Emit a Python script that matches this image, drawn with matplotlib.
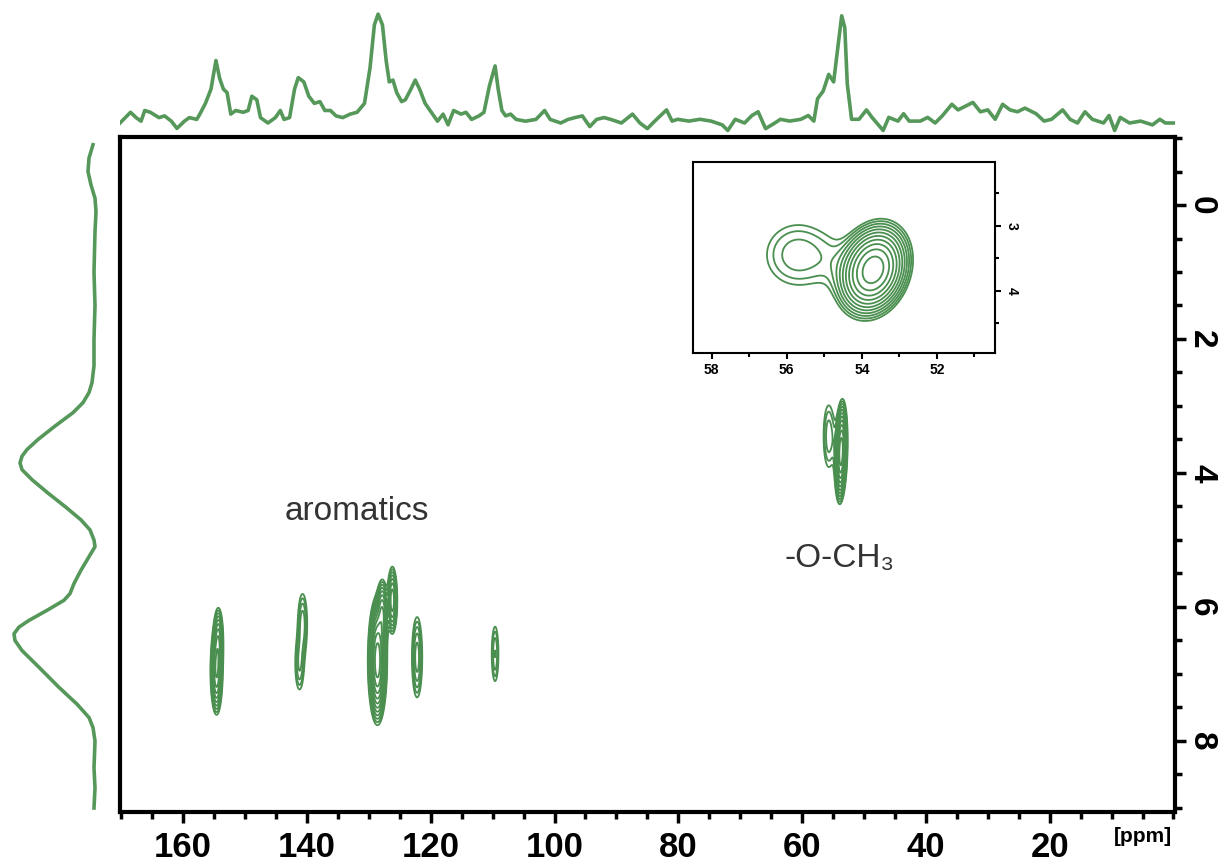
import numpy as np
import matplotlib
matplotlib.use("Agg")
import matplotlib.pyplot as plt
from matplotlib.ticker import MultipleLocator

plt.rcParams['font.family'] = ['Liberation Sans', 'DejaVu Sans']

# ---------------- data ----------------
# 13C projection (top): chemical shift (ppm) and intensity (a.u.)
top_ppm = [170.2, 168.5, 167.6, 166.8, 166.2, 165.3, 163.9, 163.0, 161.9, 161.0,
           159.8, 159.0, 157.8, 157.3, 156.4, 155.5, 154.7, 154.1, 153.5, 152.9,
           152.3, 151.5, 150.3, 149.5, 148.9, 148.1, 147.5, 146.3, 145.1, 144.3,
           143.7, 142.8, 142.0, 141.4, 140.5, 139.7, 138.8, 137.9, 137.1, 136.2,
           135.3, 134.2, 133.0, 131.9, 130.7, 129.8, 129.1, 128.5, 127.8, 127.2,
           126.7, 126.1, 125.5, 124.7, 124.1, 123.2, 122.5, 121.8, 120.9, 119.7,
           118.9, 118.0, 117.2, 116.3, 115.1, 114.3, 113.4, 112.2, 111.4, 110.5,
           109.6, 109.1, 108.5, 107.9, 107.1, 106.2, 104.7, 103.0, 101.6, 100.7,
           99.0, 97.8, 96.7, 95.5, 94.3, 93.2, 92.0, 90.9, 89.2, 87.4,
           86.2, 85.0, 83.8, 81.9, 81.0, 80.1, 78.3, 76.5, 74.7, 72.9,
           72.0, 70.8, 69.3, 68.1, 67.1, 65.9, 64.4, 63.5, 62.0, 60.2,
           59.0, 58.1, 57.5, 56.6, 55.7, 54.9, 54.2, 53.6, 53.1, 52.7,
           52.0, 50.8, 49.6, 48.7, 46.9, 46.0, 44.5, 43.6, 42.7, 40.9,
           39.7, 38.5, 37.3, 35.8, 34.8, 33.6, 32.4, 31.2, 30.0, 28.8,
           27.6, 26.4, 25.2, 24.0, 22.2, 20.9, 19.7, 17.9, 16.7, 15.5,
           14.3, 13.1, 11.3, 10.4, 9.5, 8.6, 7.1, 5.3, 3.4, 2.2,
           1.3, -0.2]
top_int = [0.0, 10.7, 5.4, 1.8, 12.5, 10.7, 5.4, 7.1, 1.8, -5.4,
           1.8, 5.4, 3.6, 8.9, 19.6, 33.9, 62.5, 44.6, 33.9, 30.4,
           8.9, 12.5, 10.7, 12.5, 26.8, 23.2, 5.4, 0.0, 5.4, 12.5,
           3.6, 5.4, 33.9, 45.4, 41.1, 26.8, 19.6, 21.4, 12.5, 12.5,
           7.1, 5.4, 8.9, 10.7, 19.6, 55.4, 98.2, 108.9, 98.2, 62.5,
           41.1, 42.9, 30.4, 21.4, 23.2, 33.9, 42.9, 33.9, 19.6, 8.9,
           1.8, 8.9, -1.8, 12.5, 8.9, 10.7, 3.6, 7.1, 10.7, 37.5,
           57.1, 33.9, 12.5, 7.1, 8.9, 3.6, 1.8, 3.6, 12.5, 3.6,
           0.0, 3.6, 5.4, 7.1, -3.6, 3.6, 5.4, 3.6, 0.0, 8.9,
           0.0, -5.6, 1.9, 13.1, 1.9, 3.7, 1.9, 3.7, 1.9, -1.9,
           -7.5, 3.7, 0.0, 7.5, 11.2, -5.6, 0.0, 3.7, 1.9, 3.7,
           7.5, 1.9, 24.3, 31.8, 48.6, 41.1, 76.5, 107.2, 95.3, 39.2,
           3.7, 3.7, 13.1, 5.6, -7.5, 5.6, 1.9, 9.3, 1.9, 1.9,
           5.6, 0.0, 7.5, 18.7, 13.1, 16.8, 20.6, 11.2, 13.1, 3.7,
           18.7, 13.1, 11.2, 14.9, 9.3, 1.9, 3.7, 13.1, 3.7, 0.0,
           11.2, 3.7, 0.0, 7.5, -7.5, 5.6, 0.0, 1.9, -1.9, 3.7,
           0.0, 0.0]

# 1H projection (left): chemical shift (ppm) and intensity (a.u.)
left_ppm = [-0.9, -0.7, -0.5, -0.3, -0.1, 0.1, 0.4, 1.0, 1.5, 2.0,
            2.4, 2.65, 2.8, 2.95, 3.1, 3.3, 3.5, 3.65, 3.75, 3.85,
            3.95, 4.1, 4.3, 4.5, 4.7, 4.85, 5.0, 5.1, 5.25, 5.45,
            5.65, 5.8, 5.9, 6.05, 6.2, 6.3, 6.4, 6.5, 6.65, 6.9,
            7.2, 7.45, 7.65, 7.8, 8.0, 8.4, 8.7, 9.0]
left_int = [2, 6, 7, 4, 0, -1, 0, 1, 0, 1,
            1, 3, 6, 12, 22, 40, 57, 68, 73, 75,
            73, 63, 47, 30, 14, 5, 1, 0, 6, 14,
            21, 25, 31, 48, 66, 76, 81, 80, 73, 56,
            36, 18, 6, 2, 0, 1, 0, 1]

# 2D cross peaks: 13C shift, 1H shift, widths, tilt, amplitude
pk_c13 = [154.6, 154.3, 140.7, 141.2, 128.6, 127.8, 126.2, 122.2, 109.6, 55.7, 54.8, 53.7]
pk_h1 = [6.95, 6.5, 6.25, 6.85, 6.8, 6.1, 5.9, 6.75, 6.7, 3.45, 3.55, 3.68]
pk_wc = [0.45, 0.4, 0.5, 0.5, 0.62, 0.45, 0.4, 0.5, 0.4, 0.65, 0.35, 0.42]
pk_wh = [0.3, 0.25, 0.3, 0.28, 0.38, 0.25, 0.25, 0.36, 0.3, 0.36, 0.3, 0.31]
pk_rho = [0, 0, 0, 0, 0, 0, 0, 0, 0, 0, 0, 0.2]
pk_amp = [0.45, 0.25, 0.12, 0.1, 1.0, 0.3, 0.3, 0.16, 0.1, 0.09, 0.02, 1.0]

xtick_vals = [160, 140, 120, 100, 80, 60, 40, 20]
ytick_vals = [0, 2, 4, 6, 8]
inset_xticks = [58, 56, 54, 52]
inset_yticks = [3, 4]

# ---------------- helpers ----------------
def field(X, Y):
    Z = np.zeros_like(X)
    for cx, cy, sx, sy, rho, a in zip(pk_c13, pk_h1, pk_wc, pk_wh, pk_rho, pk_amp):
        dx = (X - cx) / sx
        dy = (Y - cy) / sy
        q = (dx * dx - 2 * rho * dx * dy + dy * dy) / (1 - rho ** 2)
        Z += a * np.exp(-0.5 * q)
    return Z

GREEN = '#55985a'
CGREEN = '#4a8f4f'
levels = [0.04 * 1.35 ** k for k in range(12)]

W, H = 1226, 866
def rect(l, t, r, b):
    return [l / W, 1 - b / H, (r - l) / W, (b - t) / H]

fig = plt.figure(figsize=(W / 100, H / 100), dpi=100)
ax = fig.add_axes(rect(120, 137, 1175, 812))
axt = fig.add_axes(rect(120, 5, 1175, 135))
axl = fig.add_axes(rect(5, 137, 110, 812))
axi = fig.add_axes(rect(693, 162, 995, 353))

XLIM = (170.2, -0.25)
YLIM = (9.06, -1.015)

# main 2D
xs = np.linspace(170.2, -0.25, 3400)
ys = np.linspace(-1.015, 9.06, 1000)
X, Y = np.meshgrid(xs, ys)
ax.contour(X, Y, field(X, Y), levels=levels, colors=CGREEN, linewidths=1.3)
ax.set_xlim(*XLIM)
ax.set_ylim(*YLIM)
ax.yaxis.tick_right()
ax.set_xticks(xtick_vals)
ax.set_xticklabels([str(v) for v in xtick_vals], fontsize=25, fontweight='bold')
ax.set_yticks(ytick_vals)
ax.set_yticklabels([str(v) for v in ytick_vals], fontsize=24, fontweight='bold',
                   rotation=270, va='center')
ax.xaxis.set_minor_locator(MultipleLocator(5))
ax.yaxis.set_minor_locator(MultipleLocator(0.5))
ax.tick_params(which='major', direction='out', length=8, width=2.5)
ax.tick_params(axis='x', which='major', pad=6)
ax.tick_params(axis='y', which='major', pad=0)
ax.tick_params(which='minor', direction='out', length=5, width=2.5)
for s in ax.spines.values():
    s.set_linewidth(3)
ax.text(132, 4.58, 'aromatics', ha='center', va='center', fontsize=24, color='#333333')
ax.text(53.9, 5.27, '-O-CH₃', ha='center', va='center', fontsize=24, color='#333333')
fig.text(1143 / W, 1 - 837 / H, '[ppm]', fontsize=15, fontweight='bold',
         ha='center', va='center')

# top projection
axt.plot(top_ppm, top_int, color=GREEN, lw=2.6)
axt.set_xlim(*XLIM)
axt.set_ylim(-12, 118)
axt.axis('off')

# left projection
axl.plot(left_int, left_ppm, color=GREEN, lw=2.6)
axl.set_xlim(90, -15)
axl.set_ylim(*YLIM)
axl.axis('off')

# inset
xi = np.linspace(58.5, 50.45, 600)
yi = np.linspace(2.02, 4.96, 400)
XI, YI = np.meshgrid(xi, yi)
axi.contour(XI, YI, field(XI, YI), levels=levels, colors=CGREEN, linewidths=1.3)
axi.set_xlim(58.5, 50.45)
axi.set_ylim(4.96, 2.02)
axi.yaxis.tick_right()
axi.set_xticks(inset_xticks)
axi.set_xticklabels([str(v) for v in inset_xticks], fontsize=10, fontweight='bold')
axi.set_yticks(inset_yticks)
axi.set_yticklabels([str(v) for v in inset_yticks], fontsize=10, fontweight='bold',
                    rotation=270, va='center')
axi.xaxis.set_minor_locator(MultipleLocator(1))
axi.yaxis.set_minor_locator(MultipleLocator(0.5))
axi.tick_params(which='major', direction='out', length=4, width=1.5, pad=3)
axi.tick_params(which='minor', direction='out', length=3, width=1.5)
for s in axi.spines.values():
    s.set_linewidth(1.5)

fig.savefig('out.png', dpi=100)
